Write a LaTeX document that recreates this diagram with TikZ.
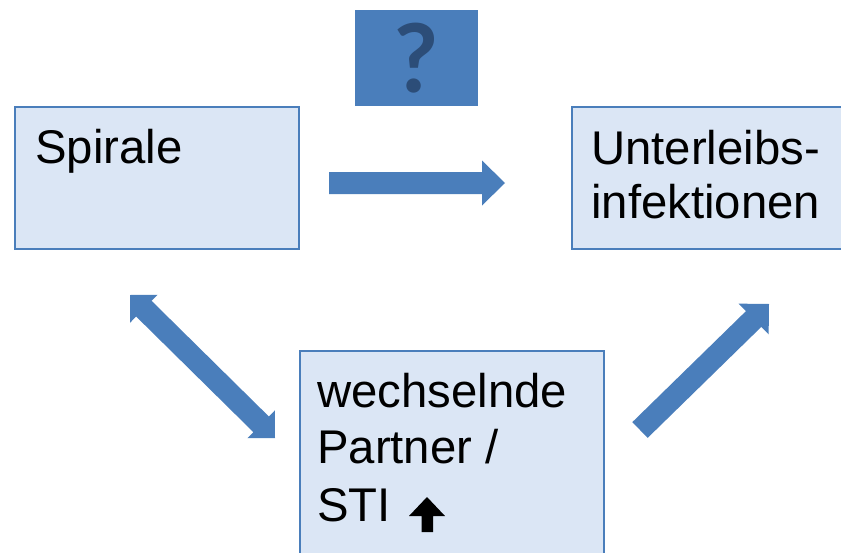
\documentclass[tikz,border=0pt]{standalone}
\usepackage{fontspec}
\setmainfont{Liberation Sans}
\newfontfamily\qfont{Lato}
\usetikzlibrary{calc}
\definecolor{boxfill}{RGB}{219,230,245}
\definecolor{boxline}{RGB}{74,126,187}
\definecolor{arrblue}{RGB}{74,126,187}
\definecolor{qmark}{RGB}{44,77,120}
\tikzset{
  box/.style={draw=boxline, line width=1.5pt, fill=boxfill, inner sep=0pt, anchor=north west},
  txt/.style={anchor=base west, inner sep=0pt, font=\fontsize{47.3}{56}\selectfont},
}
% block arrow from #1 to #2: half shaft #3, half head #4, head length #5
\newcommand\blockarr[5]{%
  \fill[arrblue] let \p1=($(#2)!#5!(#1)$) in
    ($(#1)!#3!90:(#2)$) -- ($(\p1)!#3!90:(#2)$) -- ($(\p1)!#4!90:(#2)$) -- (#2)
    -- ($(\p1)!#4!-90:(#2)$) -- ($(\p1)!#3!-90:(#2)$) -- ($(#1)!#3!-90:(#2)$) -- cycle;}
\newcommand\dblarr[5]{%
  \fill[arrblue] let \p1=($(#2)!#5!(#1)$), \p2=($(#1)!#5!(#2)$) in
    (#1) -- ($(\p2)!#4!90:(#2)$) -- ($(\p2)!#3!90:(#2)$) -- ($(\p1)!#3!90:(#2)$) -- ($(\p1)!#4!90:(#2)$) -- (#2)
    -- ($(\p1)!#4!-90:(#2)$) -- ($(\p1)!#3!-90:(#2)$) -- ($(\p2)!#3!-90:(#2)$) -- ($(\p2)!#4!-90:(#2)$) -- cycle;}
\begin{document}
\begin{tikzpicture}[x=1pt,y=-1pt]
\useasboundingbox (0,0) rectangle (841,552);
\clip (0,0) rectangle (841,552);
% boxes
\node[box, minimum width=284pt, minimum height=142pt] (spirale) at (14,106) {};
\node[box, minimum width=290pt, minimum height=142pt] (unter) at (571,106) {};
\node[box, minimum width=304pt, minimum height=220pt] (wechsel) at (299,350) {};
\node[anchor=north west, fill=arrblue, minimum width=123pt, minimum height=96pt, inner sep=0pt] (frage) at (355,10) {};
\node[text=qmark, font=\qfont\bfseries\fontsize{95}{98}\selectfont, inner sep=0pt, anchor=base] (q) at (416.5,92) {?};
% texts
\node[txt] (t1) at (35,163) {Spirale};
\node[txt] (t2) at (591,164) {Unterleibs-};
\node[txt] (t3) at (591,218) {infektionen};
\node[txt] (t4) at (317,407) {wechselnde};
\node[txt] (t5) at (317,463) {Partner /};
\node[txt] (t6) at (317,521) {STI};
% bold up arrow after STI
\fill[black] (421.5,532) -- (433,532) -- (433,516) -- (445,516) -- (427,497) -- (409,516) -- (421.5,516) -- cycle;
% connectors
\coordinate (h1) at (329,183);
\coordinate (h2) at (505,183);
\blockarr{h1}{h2}{11pt}{22.5pt}{23pt}
\coordinate (d1) at (130,295);
\coordinate (d2) at (275,438);
\dblarr{d1}{d2}{11pt}{19.5pt}{19.5pt}
\coordinate (r1) at (640,430);
\coordinate (r2) at (769,304);
\blockarr{r1}{r2}{11pt}{21.5pt}{21.5pt}
\end{tikzpicture}
\end{document}
